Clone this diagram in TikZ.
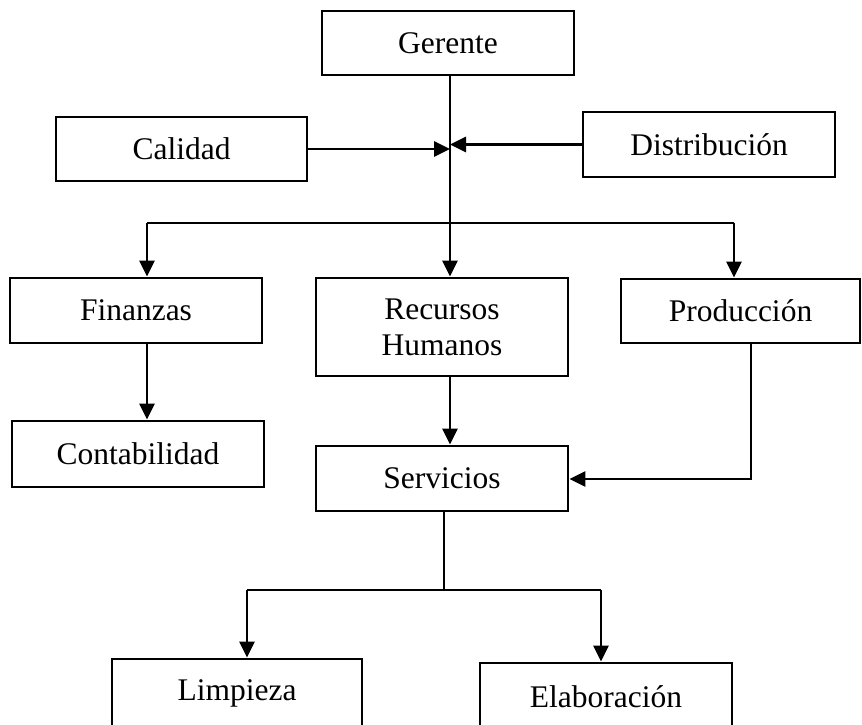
\documentclass[tikz,border=0pt]{standalone}
\usepackage{fontspec}
\setmainfont{Liberation Serif}
\usetikzlibrary{arrows.meta}
\begin{document}
\begin{tikzpicture}[x=1pt,y=-1pt,
  box/.style={draw=black,line width=2.8pt,rectangle,inner sep=0pt,
    align=center,font=\fontsize{31.5}{36}\selectfont},
  link/.style={draw=black,line width=2.8pt},
  arr/.style={link,-{Triangle[length=16pt,width=15pt]}}]
\useasboundingbox (0,0) rectangle (862,724);
\fill[white] (0,0) rectangle (862,724);

% boxes of the chart
\node[box,minimum width=252pt,minimum height=64pt] (ger) at (448,43) {Gerente};
\node[box,minimum width=251pt,minimum height=64pt] (cal) at (181.5,149) {Calidad};
\node[box,minimum width=252pt,minimum height=65pt] (dis) at (709,144.5) {Distribución};
\node[box,minimum width=252pt,minimum height=65pt] (fin) at (136,310.5) {Finanzas};
\node[box,minimum width=252pt,minimum height=98pt] (rh) at (442,327) {Recursos\\Humanos};
\node[box,minimum width=239pt,minimum height=64pt] (pro) at (740.5,311) {Producción};
\node[box,minimum width=252pt,minimum height=66pt] (con) at (138,454) {Contabilidad};
\node[box,minimum width=252pt,minimum height=65pt] (ser) at (442,478.5) {Servicios};
\node[box,minimum width=250pt,minimum height=68pt] (lim) at (237,693) {Limpieza};
\node[box,minimum width=252pt,minimum height=68pt] (ela) at (606,697) {Elaboración};

% junction points
\coordinate (tr) at (450,223);
\coordinate (bl) at (147,223);
\coordinate (br) at (734,223);
\coordinate (pc) at (751,479);
\coordinate (sj) at (444,590);
\coordinate (sl) at (247,590);
\coordinate (sr) at (601,590);

% trunk from the manager down to Recursos Humanos
\draw[arr] (ger.south -| tr) -- (rh.north -| tr);
\draw[arr] (cal.east) -- (cal.east -| tr);
\draw[arr] (dis.west) -- (dis.west -| tr);

% branch bar to the departments
\draw[link] (bl) -- (br);
\draw[arr] (bl) -- (bl |- fin.north);
\draw[arr] (br) -- (br |- pro.north);
\draw[arr] (bl |- fin.south) -- (bl |- con.north);

% into Servicios
\draw[arr] (rh.south -| tr) -- (ser.north -| tr);
\draw[arr] (pc |- pro.south) -- (pc) -- (pc -| ser.east);

% Servicios to its units
\draw[link] (ser.south -| sj) -- (sj);
\draw[link] (sl) -- (sr);
\draw[arr] (sl) -- (sl |- lim.north);
\draw[arr] (sr) -- (sr |- ela.north);
\end{tikzpicture}
\end{document}
